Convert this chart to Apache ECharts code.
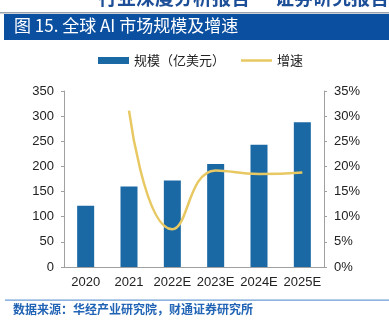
<!DOCTYPE html>
<html>
<head>
<meta charset="utf-8">
<script src="https://cdn.jsdelivr.net/npm/echarts@6/dist/echarts.min.js"></script>
<style>
html,body{margin:0;padding:0;background:#fff;}
#chart{width:389px;height:330px;}
</style>
</head>
<body>
<div id="chart"></div>
<script>
// Global AI market size (USD 100m) and growth rate
var categories = ['2020', '2021', '2022E', '2023E', '2024E', '2025E'];
var marketSize = [122, 160, 172, 205, 243, 288];
var growthRate = [null, 31.1, 7.5, 19.2, 18.5, 18.8];
var leftTicks = [0, 50, 100, 150, 200, 250, 300, 350];

var FONT = '"Liberation Sans", Arial, "Noto Sans CJK SC", sans-serif';
var chart = echarts.init(document.getElementById('chart'));

chart.setOption({
  animation: false,
  textStyle: { fontFamily: FONT },
  graphic: [
    { type: 'text', left: 98, top: -12, style: { text: '行业深度分析报告', fill: '#1d4f98', font: 'bold 19px "Noto Sans CJK SC", sans-serif' } },
    { type: 'text', left: 275, top: -12, style: { text: '证券研究报告', fill: '#1d4f98', font: 'bold 19px "Noto Sans CJK SC", sans-serif' } },
    { type: 'rect', shape: { x: 0, y: 12, width: 389, height: 1.5 }, style: { fill: '#9aa3ad' } },
    { type: 'rect', shape: { x: 4, y: 14, width: 385, height: 26 }, style: { fill: '#0b4fa0' } },
    { type: 'text', left: 14, top: 17, style: { text: '图 15. 全球 AI 市场规模及增速', fill: '#ffffff', font: '17px "Noto Sans CJK SC", sans-serif' } },
    { type: 'rect', shape: { x: 5, y: 299.5, width: 384, height: 1.2 }, style: { fill: '#6a9bd6' } },
    { type: 'text', left: 13, top: 303, style: { text: '数据来源：华经产业研究院，财通证券研究所', fill: '#2163b4', font: 'bold 12px "Noto Sans CJK SC", sans-serif' } }
  ],
  legend: {
    top: 54,
    left: 98,
    padding: 0,
    itemGap: 16,
    itemWidth: 31,
    itemHeight: 7,
    textStyle: { fontSize: 13, color: '#222', fontFamily: '"Noto Sans CJK SC", sans-serif' },
    data: [
      { name: '规模（亿美元）', icon: 'rect' },
      { name: '增速', icon: 'path://M0,0 L31,0 L31,2.5 L0,2.5 Z', itemStyle: { color: '#e8c862' } }
    ]
  },
  grid: { left: 64, right: 65, top: 91, bottom: 63 },
  xAxis: {
    type: 'category',
    data: categories,
    axisLine: { lineStyle: { color: '#a0a0a0' } },
    axisTick: { show: false },
    axisLabel: { color: '#222', fontSize: 13, margin: 9, interval: 0, hideOverlap: false }
  },
  yAxis: [
    {
      type: 'value', min: 0, max: 350, interval: 50,
      axisLine: { show: true, lineStyle: { color: '#a0a0a0' } },
      axisTick: { show: true, length: 3, lineStyle: { color: '#a0a0a0' } },
      splitLine: { show: false },
      axisLabel: { color: '#222', fontSize: 13, margin: 10,
        formatter: function (v) { return leftTicks.indexOf(v) >= 0 ? String(v) : ''; } }
    },
    {
      type: 'value', min: 0, max: 35, interval: 5,
      axisLine: { show: true, lineStyle: { color: '#a0a0a0' } },
      axisTick: { show: true, length: 3, lineStyle: { color: '#a0a0a0' } },
      splitLine: { show: false },
      axisLabel: { color: '#222', fontSize: 13, margin: 10, formatter: '{value}%' }
    }
  ],
  series: [
    {
      name: '规模（亿美元）',
      type: 'bar',
      data: marketSize,
      barWidth: 17,
      itemStyle: { color: '#1a69a5' }
    },
    {
      name: '增速',
      type: 'line',
      yAxisIndex: 1,
      data: growthRate,
      smooth: 0.5,
      showSymbol: false,
      lineStyle: { color: '#e8c862', width: 2.5 },
      itemStyle: { color: '#e8c862' }
    }
  ]
});
</script>
</body>
</html>
